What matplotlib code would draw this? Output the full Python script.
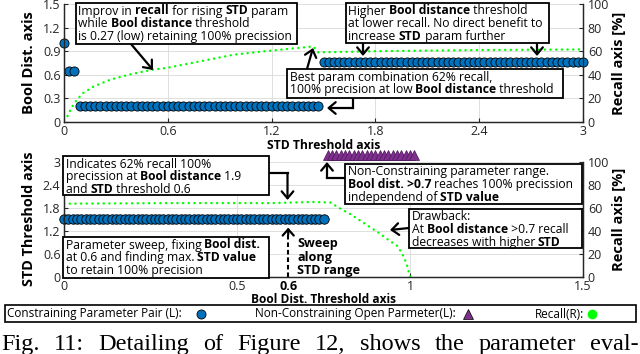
import numpy as np
import matplotlib
matplotlib.use("Agg")
import matplotlib.pyplot as plt
from matplotlib import font_manager as fm
from matplotlib.lines import Line2D
from matplotlib.patches import Rectangle, FancyArrowPatch


def has_bold(fam):
    try:
        p = fm.findfont(fm.FontProperties(family=fam, weight='bold'), fallback_to_default=False)
    except Exception:
        return False
    return 'bold' in p.lower()


SANS = next((f for f in ['Open Sans', 'Noto Sans', 'Lato', 'Roboto'] if has_bold(f)), 'DejaVu Sans')
plt.rcParams['font.family'] = [SANS, 'DejaVu Sans']

# ---- data -------------------------------------------------------------
# top panel: Bool dist. threshold found per STD value  (std from, std to, bool dist)
top_step = 0.03
top_segments = [
    (0.00, 0.00, 1.00),
    (0.03, 0.06, 0.65),
    (0.09, 1.47, 0.20),
    (1.50, 3.00, 0.76),
]
top_recall_std = [0.02, 0.045, 0.075, 0.11, 0.17, 0.27, 0.40, 0.52, 0.60, 0.79,
                  0.98, 1.13, 1.30, 1.44, 1.47, 1.80, 2.40, 3.00]
top_recall = [5, 12.5, 19, 24.5, 30, 36, 41, 44.5, 46, 51.5,
              57, 59.5, 62, 64, 59, 60, 61, 61.5]

# bottom panel: STD threshold found per Bool dist. value
bot_step = 0.0125
bot_segments = [(0.0, 0.75, 1.5)]
open_range = (0.7625, 1.0125)   # non-constraining Bool dist. values
open_level = 3.17
bot_recall_bool = [0.0, 0.3, 0.6, 0.72, 0.77, 0.80, 0.83, 0.855, 0.885, 0.913,
                   0.933, 0.962, 0.976, 0.99, 1.0, 1.015]
bot_recall = [63.5, 64, 64, 65, 64.5, 59, 54, 49, 43, 37.5,
              33, 27, 21, 11.5, 0, 0]
sweep_bool = 0.648
sweep_label = '0.6'

top_xticks = [0, 0.6, 1.2, 1.8, 2.4, 3]
top_yticks = [0, 0.3, 0.6, 0.9, 1.2, 1.5]
bot_xticks = [0, 0.5, 1, 1.5]
bot_yticks = [0, 0.6, 1.2, 1.8, 2.4, 3]
recall_ticks = [0, 20, 40, 60, 80, 100]

caption = "Fig. 11: Detailing of Figure 12, shows the parameter eval-"

BLUE = '#0072BD'
PURPLE = '#7E2F8E'
LIME = '#00FF00'
TICK_FS = 9


def expand(segments, step):
    xs, ys = [], []
    for a, b, v in segments:
        n = int(round((b - a) / step)) + 1
        for i in range(n):
            xs.append(round(a + i * step, 4))
            ys.append(v)
    return np.array(xs), np.array(ys)


W, H = 640, 354
fig = plt.figure(figsize=(6.4, 3.54), dpi=100)
renderer = fig.canvas.get_renderer()


def fx(px):
    return px / W


def fy(py):
    return 1 - py / H


# font sizes picked so that texts take the same pixel width as in the picture
def advance(s, size, weight='normal'):
    prop = fm.FontProperties(family=SANS, size=size, weight=weight)
    w = renderer.get_text_width_height_descent(s + '|', prop, False)[0]
    return w - renderer.get_text_width_height_descent('|', prop, False)[0]


def rich_width(line, size):
    return sum(advance(p, size, 'bold' if i % 2 else 'normal')
               for i, p in enumerate(line.split('**')) if p)


def fit(s, target, weight='normal'):
    return 10 * target / advance(s, 10, weight)


LEG_FS = fit('Non-Constraining Open Parmeter(L):', 201)


def make_axes(top, bottom, ylabel, ylabel_px):
    ax = fig.add_axes([fx(64), fy(bottom), fx(583) - fx(64), fy(top) - fy(bottom)])
    axr = ax.twinx()
    for a in (ax, axr):
        a.spines['top'].set_visible(False)
        for s in a.spines.values():
            s.set_color('#262626')
            s.set_linewidth(0.9)
        a.tick_params(direction='in', length=3, labelsize=TICK_FS, colors='#262626', pad=2.5)
    ax.grid(True, color='#dedede', lw=0.7)
    ax.set_axisbelow(True)
    ax.set_ylabel(ylabel, fontsize=fit(ylabel, ylabel_px, 'bold'), fontweight='bold')
    ax.yaxis.set_label_coords(-0.054, 0.5)
    axr.set_ylim(0, 100)
    axr.set_yticks(recall_ticks)
    axr.tick_params(axis='y', pad=3.5)
    axr.set_ylabel('Recall axis [%]', fontsize=fit('Recall axis [%]', 103, 'bold'), fontweight='bold')
    axr.yaxis.set_label_coords(1.056, 0.5)
    return ax, axr


# ---- top panel --------------------------------------------------------
ax1, ax1r = make_axes(4, 122, 'Bool Dist. axis', 103)
tx, ty = expand(top_segments, top_step)
ax1.plot(tx, ty, 'o', ms=6.6, mfc=BLUE, mec='k', mew=0.6, clip_on=False, zorder=3)
ax1r.plot(top_recall_std, top_recall, color=LIME, lw=1.7,
          linestyle=(0, (0.1, 2.3)), dash_capstyle='round')
ax1.set_xlim(0, 3)
ax1.set_ylim(0, 1.5)
ax1.set_xticks(top_xticks, ['0', '0.6', '1.2', '1.8', '2.4', '3'])
ax1.set_yticks(top_yticks, ['0', '0.3', '0.6', '0.9', '1.2', '1.5'])
ax1.set_xlabel('STD Threshold axis', fontsize=fit('STD Threshold axis', 114, 'bold'),
               fontweight='bold')
ax1.xaxis.set_label_coords(0.5, -0.14)

# ---- bottom panel -----------------------------------------------------
ax2, ax2r = make_axes(161.7, 276.7, 'STD Threshold axis', 134)
bx, by = expand(bot_segments, bot_step)
ax2.plot(bx, by, 'o', ms=6.8, mfc=BLUE, mec='k', mew=0.6, clip_on=False, zorder=3)
ox, oy = expand([(open_range[0], open_range[1], open_level)], bot_step)
ax2.plot(ox, oy, '^', ms=6.5, mfc=PURPLE, mec='#4b1656', mew=0.5, clip_on=False, zorder=3)
ax2r.plot(bot_recall_bool, bot_recall, color=LIME, lw=1.7,
          linestyle=(0, (0.1, 2.3)), dash_capstyle='round')
ax2.set_xlim(0, 1.5)
ax2.set_ylim(0, 3)
ax2.set_xticks(bot_xticks, ['0', '0.5', '1', '1.5'])
ax2.set_xticks([sweep_bool], [sweep_label], minor=True)
ax2.tick_params(axis='x', which='minor', length=0, labelsize=TICK_FS, pad=2.5)
for lab in ax2.xaxis.get_minorticklabels():
    lab.set_fontweight('bold')
ax2.set_yticks(bot_yticks, ['0', '0.6', '1.2', '1.8', '2.4', '3'])
ax2.set_xlabel('Bool Dist. Threshold axis', fontweight='bold',
               fontsize=fit('Bool Dist. Threshold axis', 146, 'bold'))
ax2.xaxis.set_label_coords(0.5, -0.14)

# sweep marker: dashed line with an up arrow at 0.6
ax2.vlines(sweep_bool, 0, 1.2, colors='k', lw=1.5, linestyles=(0, (2.2, 1.4)))
ax2.annotate('', xy=(sweep_bool, 1.28), xytext=(sweep_bool, 1.1),
             arrowprops=dict(arrowstyle='->,head_length=0.45,head_width=0.4',
                             lw=1.6, color='k', shrinkA=0, shrinkB=0))

# ---- annotation boxes (figure pixel layout) ---------------------------
boxes = [
    ((76, 3, 297, 44), ["Improv in **recall** for rising **STD** param",
                        "while **Bool distance** threshold",
                        "is 0.27 (low) retaining 100% precission"]),
    ((346, 3, 549, 43), ["Higher **Bool distance** threshold",
                         "at lower recall. No direct benefit to",
                         "increase **STD** param further"]),
    ((287, 69, 563, 98), ["Best param combination 62% recall,",
                          "100% precision at low **Bool distance** threshold"]),
    ((63, 156, 269, 195), ["Indicates 62% recall 100%",
                           "precission at **Bool distance** 1.9",
                           "and **STD** threshold 0.6"]),
    ((63, 237, 269, 278), ["Parameter sweep, fixing **Bool dist.**",
                           "at 0.6 and finding max. **STD value**",
                           "to retain 100% precision"]),
    ((345, 164, 582, 204), ["Non-Constraining parameter range.",
                            "**Bool dist. >0.7** reaches 100% precission",
                            "independend of **STD value**"]),
    ((409, 209, 582, 248), ["Drawback:",
                            "At **Bool distance** >0.7 recall",
                            "decreases with higher **STD**"]),
]
BOX_FS = min(10 * (b[2] - b[0] - 6) / max(rich_width(l, 10) for l in lines)
             for b, lines in boxes)


def rich_line(x, y, line, size):
    # '**' toggles bold; pieces placed one after another on the baseline
    for i, part in enumerate(line.split('**')):
        if not part:
            continue
        weight = 'bold' if i % 2 else 'normal'
        fig.text(fx(x), fy(y), part, fontsize=size, fontweight=weight,
                 ha='left', va='baseline', zorder=6)
        x += advance(part, size, weight)


for (x0, y0, x1, y1), lines in boxes:
    fig.add_artist(Rectangle((fx(x0), fy(y1)), fx(x1) - fx(x0), fy(y0) - fy(y1),
                             transform=fig.transFigure, fc='white', ec='k', lw=1.3, zorder=5))
    for i, line in enumerate(lines):
        rich_line(x0 + 2.5, y0 + 11.5 + 12.6 * i, line, BOX_FS)


def arrow(p0, p1):
    fig.add_artist(FancyArrowPatch((fx(p0[0]), fy(p0[1])), (fx(p1[0]), fy(p1[1])),
                                   transform=fig.transFigure,
                                   arrowstyle='->,head_length=0.5,head_width=0.42',
                                   mutation_scale=10, lw=1.6, color='k',
                                   shrinkA=0, shrinkB=0, zorder=4))


def seg(pts):
    fig.add_artist(Line2D([fx(p[0]) for p in pts], [fy(p[1]) for p in pts],
                          color='k', lw=1.6, zorder=4))


arrow((131, 44), (153, 70))
arrow((363, 43), (363, 56))
arrow((537, 43), (537, 56))
arrow((307, 69), (313, 48))
seg([(353, 98), (353, 108)])
arrow((353, 108), (327, 108))
seg([(269, 173), (287.5, 173)])
arrow((287.5, 173), (287.5, 200))
seg([(345, 178), (327, 178)])
arrow((327, 178), (327, 162))
arrow((409, 228), (390, 230))

sweep_fs = fit('STD range', 63, 'bold')
for i, word in enumerate(['Sweep', 'along', 'STD range']):
    fig.text(fx(297), fy(247.5 + 13.4 * i), word, ha='left', va='baseline',
             fontsize=sweep_fs, fontweight='bold')

# ---- legend row -------------------------------------------------------
fig.add_artist(Rectangle((fx(5), fy(322)), fx(636) - fx(5), fy(305) - fy(322),
                         transform=fig.transFigure, fc='white', ec='k', lw=1.2))
legend_items = [
    ('Constraining Parameter Pair (L):', 7, 201, dict(marker='o', ms=6.5, mfc=BLUE, mec='k', mew=0.6)),
    ('Non-Constraining Open Parmeter(L):', 255, 468, dict(marker='^', ms=7, mfc=PURPLE, mec='k', mew=0.5)),
    ('Recall(R):', 535, 592, dict(marker='o', ms=6.5, mfc=LIME, mec=LIME, mew=0.5)),
]
for label, tx0, mx, mk in legend_items:
    fig.text(fx(tx0), fy(314), label, ha='left', va='center', fontsize=LEG_FS)
    fig.add_artist(Line2D([fx(mx)], [fy(314)], linestyle='none', **mk))

# ---- caption (justified) ---------------------------------------------
words = caption.split(' ')
wtexts = [fig.text(0, fy(350), w, fontsize=17.5, family='Liberation Serif', va='baseline')
          for w in words]
widths = [t.get_window_extent(renderer).width for t in wtexts]
gap = (W - 2 - sum(widths)) / (len(words) - 1)
x = 1
for t, w in zip(wtexts, widths):
    t.set_x(fx(x))
    x += w + gap

fig.savefig('out.png', dpi=100)
